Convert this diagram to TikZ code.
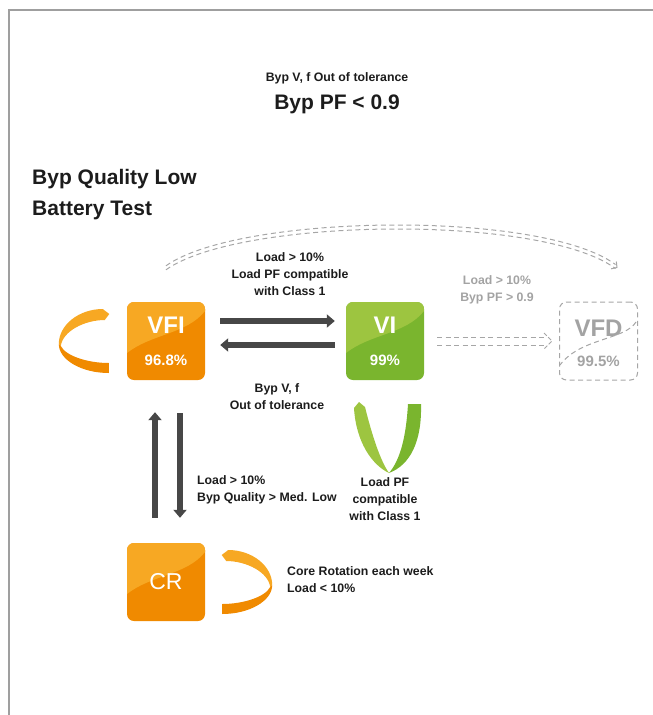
\documentclass[tikz,border=0pt]{standalone}
\usepackage{fontspec}
\setmainfont{Liberation Sans}
\usetikzlibrary{arrows.meta,calc}
\definecolor{orL}{HTML}{F7A823}
\definecolor{orD}{HTML}{F08A00}
\definecolor{grL}{HTML}{9DC540}
\definecolor{grD}{HTML}{7AB52E}
\definecolor{arr}{HTML}{474747}
\definecolor{dgray}{HTML}{A6A6A6}
\definecolor{tgray}{HTML}{A3A3A3}
\definecolor{txt}{HTML}{1C1C1C}
\newcommand{\lblfont}{\bfseries\fontsize{12.3}{17}\selectfont}
\tikzset{
  modebox/.style 2 args={rectangle, rounded corners=7pt, minimum width=78pt, minimum height=78pt, inner sep=0pt, fill=#2,
    path picture={\fill[#1, sharp corners] (path picture bounding box.north west) -- (path picture bounding box.north east)
      -- ([yshift=-9pt]path picture bounding box.north east)
      .. controls ([xshift=-18pt,yshift=-32pt]path picture bounding box.north east) and ([xshift=24pt,yshift=-32pt]path picture bounding box.north west)
      .. ([yshift=-51pt]path picture bounding box.north west) -- cycle;}},
  vfdbox/.style={rectangle, rounded corners=7pt, minimum width=78pt, minimum height=78pt, inner sep=0pt, draw=dgray, line width=1pt, dash pattern=on 5pt off 3.5pt},
  boxtitle/.style={font=\bfseries\fontsize{24}{24}\selectfont, text=white, inner sep=0pt},
  boxpct/.style={font=\bfseries\fontsize{15}{15}\selectfont, text=white, inner sep=0pt},
  lbl/.style={font=\lblfont, text=txt, align=center, inner sep=0pt},
  bigarrow/.style={draw=arr, line width=6.8pt, -{Triangle[length=8pt,width=13pt]}},
  dashline/.style={draw=dgray, line width=1pt, dash pattern=on 5pt off 3.5pt},
  barbtip/.style={draw=dgray, line width=1pt, dash pattern=on 0pt off 60pt},
  borderline/.style={draw=gray!75, line width=1.2pt},
}
\begin{document}
\begin{tikzpicture}[x=1pt,y=-1pt]
\useasboundingbox (0,0) rectangle (653,715);
\draw[borderline] (9,715) -- (9,10) -- (653,10);

% headings
\node[lbl] (hA) at (337,78) {Byp V, f Out of tolerance};
\node[font=\bfseries\fontsize{21}{21}\selectfont, text=txt, inner sep=0pt] (hB) at (337,104) {Byp PF < 0.9};
\node[font=\bfseries\fontsize{21}{31}\selectfont, text=txt, align=left, inner sep=0pt, anchor=west] (hC) at (32,194.5) {Byp Quality Low\\Battery Test};

% boxes
\node[modebox={orL}{orD}] (VFI) at (166,341) {};
\node[modebox={grL}{grD}] (VI) at (385,341) {};
\node[vfdbox] (VFD) at (598.5,341) {};
\node[modebox={orL}{orD}] (CR) at (166,582) {};

\node[boxtitle] (VFIt) at ([yshift=16pt]VFI.center) {VFI};
\node[boxpct] (VFIp) at ([yshift=-19pt]VFI.center) {96.8\%};
\node[boxtitle] (VIt) at ([yshift=16pt]VI.center) {VI};
\node[boxpct] (VIp) at ([yshift=-19pt]VI.center) {99\%};
\node[boxtitle, text=tgray] (VFDt) at ([yshift=13pt]VFD.center) {VFD};
\node[boxpct, text=tgray] (VFDp) at ([yshift=-20pt]VFD.center) {99.5\%};
\node[font=\fontsize{23}{23}\selectfont, text=white, inner sep=0pt] (CRt) at (CR.center) {CR};
\draw[dashline] (636,322) .. controls (625,340) and (580,338) .. (560,365);

% connectors
\draw[bigarrow] ([xshift=15pt,yshift=20pt]VFI.east) -- ([xshift=-11pt,yshift=20pt]VI.west);
\draw[bigarrow] ([xshift=-11pt,yshift=-4pt]VI.west) -- ([xshift=15pt,yshift=-4pt]VFI.east);
\draw[bigarrow] ([xshift=-11pt,yshift=25pt]CR.north) -- ([xshift=-11pt,yshift=-32pt]VFI.south);
\draw[bigarrow] ([xshift=14pt,yshift=-33pt]VFI.south) -- ([xshift=14pt,yshift=25pt]CR.north);

% VI -> VFD (double dashed)
\coordinate (vStart) at ([xshift=13pt]VI.east);
\coordinate (vEnd) at ([xshift=-7pt]VFD.west);
\draw[dashline] ([yshift=4pt]vStart) -- ([xshift=-6pt,yshift=4pt]vEnd);
\draw[dashline] ([yshift=-4pt]vStart) -- ([xshift=-6pt,yshift=-4pt]vEnd);
\draw[dashline, dash pattern=on 4pt off 2pt] ([xshift=-8pt,yshift=8pt]vEnd) -- (vEnd) -- ([xshift=-8pt,yshift=-8pt]vEnd);

% VFI -> VFD (double dashed arc)
\coordinate (aStart) at ([yshift=36pt]VFI.north);
\coordinate (aEnd) at ([xshift=17pt,yshift=37pt]VFD.north);
\draw[dashline] (aStart) .. controls +(73,-52) and +(-75,-55) .. (aEnd);
\draw[dashline] ([yshift=-4pt]aStart) .. controls +(73,-52) and +(-75,-55) .. ([yshift=-4pt]aEnd);
\draw[barbtip, -{Straight Barb[length=4pt,width=9pt]}] ($(aEnd)+(-6,-2.4)$) -- ($(aEnd)+(2,3.4)$);

% self loops
\begin{scope}[shift={([xshift=-18pt]VFI.west)}]
  \fill[orL] (-6,-32) -- (0.5,-27) -- (-4,-21) .. controls (-24,-21) and (-46,-10) .. (-48,5) -- (-50,3) .. controls (-50,-16) and (-30,-32) .. (-6,-32) -- cycle;
  \fill[orD] (-48,5) .. controls (-43,15) and (-21,22) .. (0,22) -- (0,32) .. controls (-27,32) and (-50,19) .. (-50,3) -- cycle;
\end{scope}
\begin{scope}[shift={([xshift=17pt]CR.east)}, xscale=-1]
  \fill[orL] (-6,-32) -- (0.5,-27) -- (-4,-21) .. controls (-24,-21) and (-46,-10) .. (-48,5) -- (-50,3) .. controls (-50,-16) and (-30,-32) .. (-6,-32) -- cycle;
  \fill[orD] (-48,5) .. controls (-43,15) and (-21,22) .. (0,22) -- (0,32) .. controls (-27,32) and (-50,19) .. (-50,3) -- cycle;
\end{scope}
\fill[grL] (354,408) -- (359,402) -- (365,407) .. controls (372,435) and (380,460) .. (389,473) .. controls (372,465) and (356,442) .. (354,408) -- cycle;
\fill[grD] (408,404) -- (421,404) .. controls (422,442) and (410,465) .. (389,473) .. controls (400,460) and (406,438) .. (408,404) -- cycle;

% labels
\node[lbl] (l1) at (290,274) {Load > 10\%\\Load PF compatible\\with Class 1};
\node[lbl, text=tgray] (l2) at (497,289.5) {Load > 10\%\\Byp PF > 0.9};
\node[lbl] (l3) at (277,397) {Byp V, f\\Out of tolerance};
\node[lbl, align=left, anchor=west] (l4) at (197,489.5) {Load > 10\%\\Byp Quality > Med. Low};
\node[lbl] (l5) at (385,499) {Load PF\\compatible\\with Class 1};
\node[lbl, align=left, anchor=west] (l6) at (287,580) {Core Rotation each week\\Load < 10\%};
\end{tikzpicture}
\end{document}
